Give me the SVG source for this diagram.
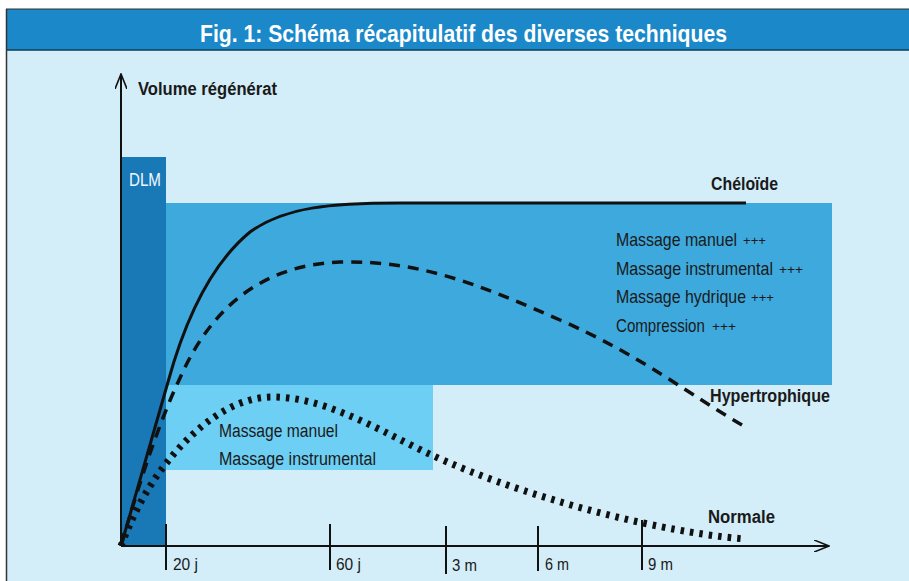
<svg xmlns="http://www.w3.org/2000/svg" width="909" height="581" viewBox="0 0 909 581">
<style>
text{font-family:"Liberation Sans","Arial",sans-serif;fill:#1a1a1a}
.b{font-weight:bold;font-size:18px}
.n{font-size:18px}
.t{font-size:17px}
.w{fill:#f0f8ff}
.curve{fill:none;stroke:#111}
.axis{fill:none;stroke:#111;stroke-width:2}
.tick{stroke:#111;stroke-width:2}
.p{font-size:13px}
</style>
<defs>
<marker id="arr" viewBox="0 0 16 12" refX="15" refY="6" markerWidth="16" markerHeight="12" markerUnits="userSpaceOnUse" orient="auto">
<path d="M0,0 L15,6 L0,12" fill="none" stroke="#111" stroke-width="1.6"/>
</marker>
</defs>
<rect x="0" y="0" width="909" height="581" fill="#ffffff"/>
<rect x="6" y="9" width="903" height="572" fill="#d3eef9"/>
<g id="title">
<rect x="6" y="9" width="903" height="41" fill="#1b88c9"/>
<line x1="6" y1="50" x2="909" y2="50" stroke="#0d3c5a" stroke-width="1.5"/>
<line x1="6" y1="9" x2="909" y2="9" stroke="#333" stroke-width="1"/>
<line x1="6.5" y1="9" x2="6.5" y2="581" stroke="#333" stroke-width="1.5"/>
<text x="200" y="42" font-size="24" font-weight="bold" style="fill:#ffffff" textLength="527" lengthAdjust="spacingAndGlyphs">Fig. 1: Schéma récapitulatif des diverses techniques</text>
</g>
<g id="zone-cheloide">
<rect x="166" y="203" width="666" height="182" fill="#3ea9dd"/>
<text class="n" transform="translate(616,246) scale(0.88,1)" x="0" y="0" textLength="137.5" lengthAdjust="spacingAndGlyphs">Massage manuel</text>
<text class="p" x="743" y="245" textLength="23" lengthAdjust="spacingAndGlyphs">+++</text>
<text class="n" transform="translate(616,275) scale(0.88,1)" x="0" y="0" textLength="178.4" lengthAdjust="spacingAndGlyphs">Massage instrumental</text>
<text class="p" x="779" y="274" textLength="24" lengthAdjust="spacingAndGlyphs">+++</text>
<text class="n" transform="translate(616,303) scale(0.88,1)" x="0" y="0" textLength="147.7" lengthAdjust="spacingAndGlyphs">Massage hydrique</text>
<text class="p" x="751" y="302" textLength="23" lengthAdjust="spacingAndGlyphs">+++</text>
<text class="n" transform="translate(616,332) scale(0.88,1)" x="0" y="0" textLength="101" lengthAdjust="spacingAndGlyphs">Compression</text>
<text class="p" x="712" y="331" textLength="24" lengthAdjust="spacingAndGlyphs">+++</text>
</g>
<g id="zone-normale">
<rect x="166" y="385" width="267" height="85" fill="#6dcff3"/>
<text class="n" x="219" y="437" textLength="119" lengthAdjust="spacingAndGlyphs">Massage manuel</text>
<text class="n" x="219" y="465" textLength="157" lengthAdjust="spacingAndGlyphs">Massage instrumental</text>
</g>
<g id="dlm">
<rect x="121" y="157" width="45" height="389" fill="#1978b6"/>
<text class="n w" x="129" y="186" textLength="32" lengthAdjust="spacingAndGlyphs">DLM</text>
</g>
<g id="labels">
<text class="b" x="138" y="95" textLength="139" lengthAdjust="spacingAndGlyphs">Volume régénérat</text>
<text class="b" x="711" y="190" textLength="67" lengthAdjust="spacingAndGlyphs">Chéloïde</text>
<text class="b" x="710" y="402" textLength="120" lengthAdjust="spacingAndGlyphs">Hypertrophique</text>
<text class="b" x="708" y="523" textLength="67" lengthAdjust="spacingAndGlyphs">Normale</text>
<text class="t" x="173" y="570" textLength="25" lengthAdjust="spacingAndGlyphs">20 j</text>
<text class="t" x="336" y="570" textLength="25" lengthAdjust="spacingAndGlyphs">60 j</text>
<text class="t" x="452" y="571" textLength="25" lengthAdjust="spacingAndGlyphs">3 m</text>
<text class="t" x="545" y="570" textLength="24" lengthAdjust="spacingAndGlyphs">6 m</text>
<text class="t" x="648" y="570" textLength="25" lengthAdjust="spacingAndGlyphs">9 m</text>
</g>
<g id="connectors">
<path class="axis" d="M121,546 L121,74" marker-end="url(#arr)"/>
<path class="axis" d="M121,546 L829,546" marker-end="url(#arr)"/>
<line class="tick" x1="166" y1="524" x2="166" y2="570"/>
<line class="tick" x1="330" y1="524" x2="330" y2="570"/>
<line class="tick" x1="446" y1="526" x2="446" y2="574"/>
<line class="tick" x1="538" y1="526" x2="538" y2="571"/>
<line class="tick" x1="642" y1="520" x2="642" y2="570"/>
<path class="curve" stroke-width="3" d="M121,546 L168,382 C185,320 210,265 250,232 C285,207 330,203 400,203 L746,203"/>
<path class="curve" stroke-width="3.5" stroke-dasharray="11,8" d="M121,546 C140,480 160,420 180,378 C210,310 260,265 340,262 C420,260 480,285 560,320 C640,355 690,395 742,425"/>
<path class="curve" stroke-width="7" stroke-dasharray="3.5,6" d="M121,546 C135,510 150,480 180,447 C210,415 240,398 270,397 C320,396 370,425 425,452 C480,478 560,505 643,523 C690,533 720,537 745,539"/>
</g>
</svg>
